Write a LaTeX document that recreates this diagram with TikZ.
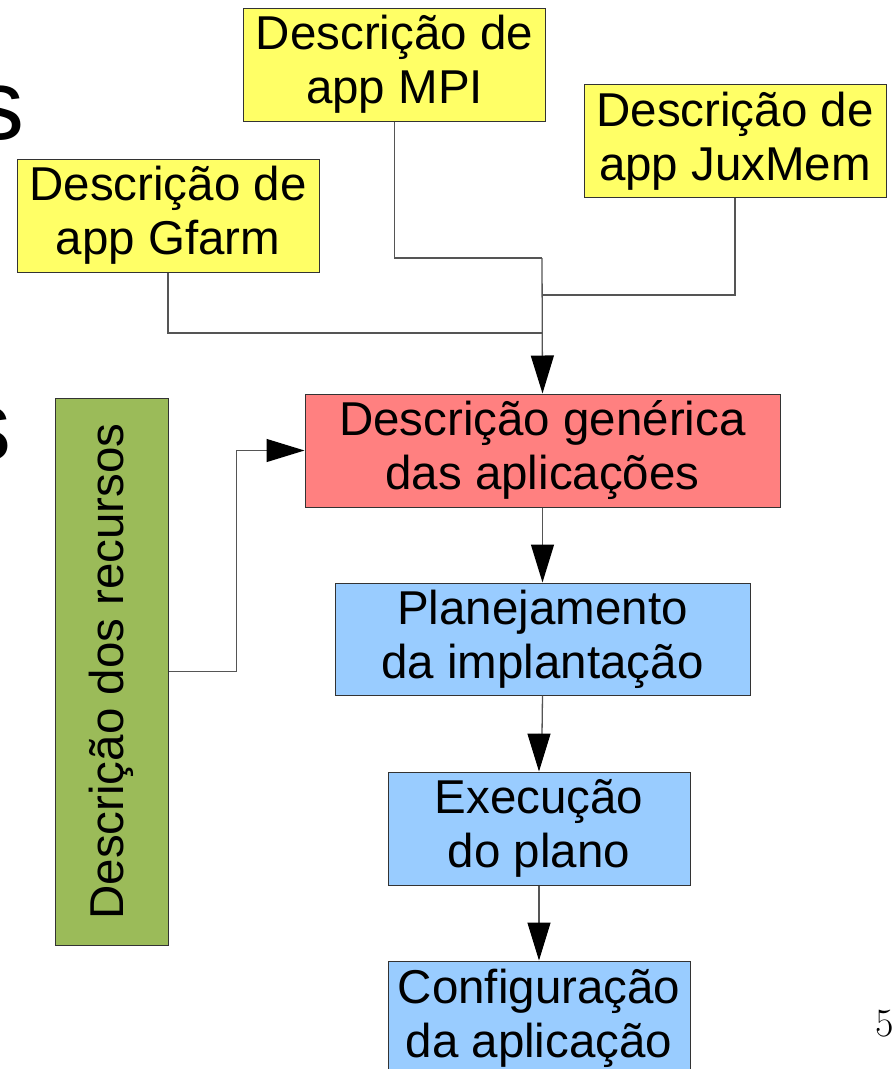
\documentclass[tikz,border=0pt]{standalone}
\usepackage{fontspec}
\setsansfont{Liberation Sans}
\usetikzlibrary{arrows.meta}
\definecolor{yel}{HTML}{FFFF66}
\definecolor{redb}{HTML}{FF8080}
\definecolor{blueb}{HTML}{99CCFF}
\definecolor{greenb}{HTML}{9BBB59}
\definecolor{edge}{HTML}{333333}
\definecolor{wire}{HTML}{555555}
\tikzset{
  box/.style={draw=edge, line width=1pt, inner sep=0pt, align=center,
    font=\sffamily\fontsize{47.5}{54}\selectfont},
  ybox/.style={box, fill=yel, minimum width=302pt, minimum height=113pt},
  conn/.style={draw=wire, line width=1.3pt},
  arr/.style={conn, -{Triangle[length=38pt,width=23pt,color=black]}}
}
\begin{document}
\begin{tikzpicture}[x=1pt,y=-1pt]
\useasboundingbox (0,0) rectangle (895,1069);
% partial title letters at the left edge
\node[font=\sffamily\fontsize{100}{110}\selectfont, anchor=base east, inner sep=0pt] (s1) at (25,139) {s};
\node[font=\sffamily\fontsize{100}{110}\selectfont, anchor=base east, inner sep=0pt] (s2) at (12,460) {s};
% page number
\node[font=\fontsize{40}{44}\selectfont, anchor=base east, inner sep=0pt] (pg) at (894,1036) {5};

\node[ybox] (mpi) at (394.5,64.5) {Descrição de\\app MPI};
\node[ybox] (jux) at (735,141) {Descrição de\\app JuxMem};
\node[ybox] (gfarm) at (168,215.5) {Descrição de\\app Gfarm};
\node[box, fill=redb, minimum width=475pt, minimum height=113pt] (gen) at (542.5,450.5) {Descrição genérica\\das aplicações};
\node[box, fill=blueb, minimum width=415pt, minimum height=112pt] (plan) at (542.5,639) {Planejamento\\da implantação};
\node[box, fill=blueb, minimum width=302pt, minimum height=113pt] (exec) at (539,828.5) {Execução\\do plano};
\node[box, fill=blueb, minimum width=302pt, minimum height=114pt] (conf) at (539,1018) {Configuração\\da aplicação};
\node[box, fill=greenb, minimum width=113pt, minimum height=547pt] (green) at (111.5,671.5) {};
\node[font=\sffamily\fontsize{47.5}{54}\selectfont, rotate=90, inner sep=0pt] (greentxt) at (green.center) {Descrição dos recursos};

\coordinate (j1) at (542,258);
\coordinate (j2) at (542,295);
\coordinate (j3) at (542,333);
\coordinate (k1) at (542,735);
\coordinate (k2) at (539,735);

\draw[conn] (mpi.south) |- (j1);
\draw[conn] (jux.south) |- (j2);
\draw[conn] (gfarm.south) |- (j3);
\draw[arr] (j1) -- (gen.north);
\draw[arr] (green.east) -- ++(68,0) |- (gen.west);
\draw[arr] (gen.south) -- (plan.north);
\draw[arr] (plan.south) -- (k1) -- (k2) -- (exec.north);
\draw[arr] (exec.south) -- (conf.north);
\end{tikzpicture}
\end{document}
